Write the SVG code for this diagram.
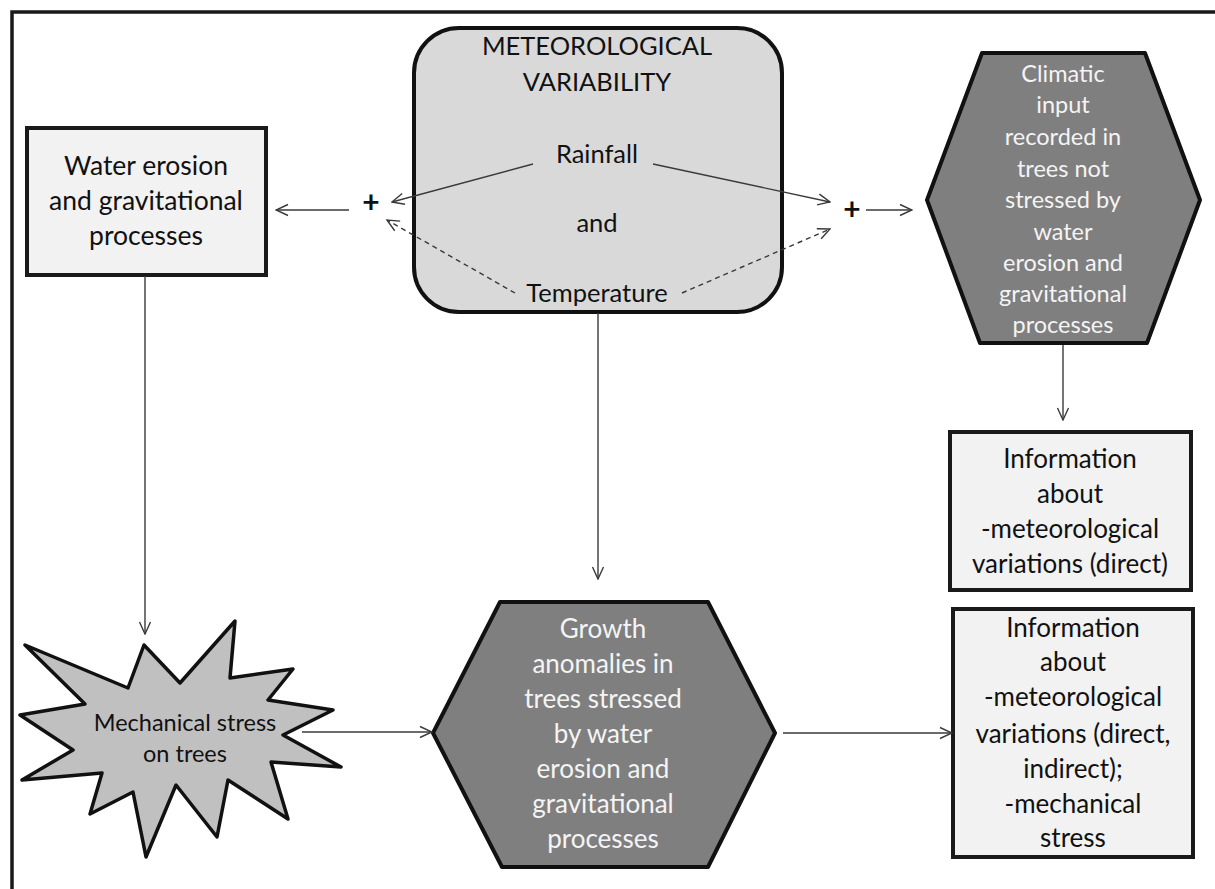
<svg xmlns="http://www.w3.org/2000/svg" width="1215" height="889" viewBox="0 0 1215 889">
<style>
text{font-family:Lato,"Open Sans","Liberation Sans",sans-serif;text-anchor:middle;}
.dark{fill:#111;}
.light{fill:#f4f4f4;}
.conn{stroke:#3a3a3a;stroke-width:1.4;fill:none;marker-end:url(#arr);}
.dash{stroke-dasharray:5 4;}
.box{fill:#f2f2f2;stroke:#1a1a1a;stroke-width:4;}
.hex{fill:#7f7f7f;stroke:#111;stroke-width:4;stroke-linejoin:round;}
</style>
<defs>
<marker id="arr" viewBox="0 0 14 14" refX="13" refY="7" markerWidth="14" markerHeight="14" markerUnits="userSpaceOnUse" orient="auto">
<path d="M1,1.5 L13,7 L1,12.5" fill="none" stroke="#3a3a3a" stroke-width="1.4"/>
</marker>
</defs>
<rect width="1215" height="889" fill="#fff"/>
<path d="M12,889 V12 H1215" fill="none" stroke="#1a1a1a" stroke-width="3.5"/>

<g id="water-erosion">
<rect class="box" x="27" y="128" width="239" height="147"/>
<g style="font-size:26.5px">
<text x="146" y="175" class="dark">Water erosion</text>
<text x="146" y="210" class="dark">and gravitational</text>
<text x="146" y="245" class="dark">processes</text>
</g>
</g>

<g id="meteorological">
<rect x="414" y="28" width="368" height="284" rx="45" ry="45" fill="#d9d9d9" stroke="#111" stroke-width="4"/>
<g style="font-size:25.5px">
<text x="597" y="55" class="dark">METEOROLOGICAL</text>
<text x="597" y="91" class="dark">VARIABILITY</text>
<text x="597" y="163" class="dark">Rainfall</text>
<text x="597" y="232" class="dark">and</text>
<text x="597" y="302" class="dark">Temperature</text>
</g>
</g>

<g id="climatic-input">
<polygon class="hex" points="982,53 1145,53 1200,200 1147,343 980,343 927,200"/>
<g style="font-size:23.5px">
<text x="1063" y="82" class="light">Climatic</text>
<text x="1063" y="113" class="light">input</text>
<text x="1063" y="145" class="light">recorded in</text>
<text x="1063" y="177" class="light">trees not</text>
<text x="1063" y="208" class="light">stressed by</text>
<text x="1063" y="240" class="light">water</text>
<text x="1063" y="271" class="light">erosion and</text>
<text x="1063" y="302" class="light">gravitational</text>
<text x="1063" y="333" class="light">processes</text>
</g>
</g>

<g id="info-direct">
<rect class="box" x="950" y="432" width="241" height="158"/>
<g style="font-size:26px">
<text x="1070" y="468" class="dark">Information</text>
<text x="1070" y="503" class="dark">about</text>
<text x="1070" y="538" class="dark">-meteorological</text>
<text x="1070" y="573" class="dark">variations (direct)</text>
</g>
</g>

<g id="mechanical-stress">
<polygon points="25,645 128,688 144,645 180,683 235,621 230,678 293,669 268,700 333,710 283,735 341,767 271,762 288,819 228,780 217,837 176,785 146,857 133,792 90,814 102,773 22,780 73,750 20,715 85,704" fill="#c0c0c0" stroke="#111" stroke-width="3.5" stroke-linejoin="round"/>
<g style="font-size:23.5px">
<text x="185" y="731" class="dark">Mechanical stress</text>
<text x="185" y="762" class="dark">on trees</text>
</g>
</g>

<g id="growth-anomalies">
<polygon class="hex" points="500,602 708,602 775,733 708,867 502,867 433,733"/>
<g style="font-size:26px">
<text x="603" y="638" class="light">Growth</text>
<text x="603" y="673" class="light">anomalies in</text>
<text x="603" y="708" class="light">trees stressed</text>
<text x="603" y="743" class="light">by water</text>
<text x="603" y="778" class="light">erosion and</text>
<text x="603" y="813" class="light">gravitational</text>
<text x="603" y="848" class="light">processes</text>
</g>
</g>

<g id="info-direct-indirect">
<rect class="box" x="953" y="609" width="240" height="248"/>
<g style="font-size:26px">
<text x="1073" y="637" class="dark">Information</text>
<text x="1073" y="671" class="dark">about</text>
<text x="1073" y="706" class="dark">-meteorological</text>
<text x="1073" y="743" class="dark">variations (direct,</text>
<text x="1073" y="778" class="dark">indirect);</text>
<text x="1073" y="813" class="dark">-mechanical</text>
<text x="1073" y="847" class="dark">stress</text>
</g>
</g>

<g id="connectors">
<line class="conn" x1="349" y1="210" x2="276" y2="210"/>
<line class="conn" x1="533" y1="164" x2="392" y2="202"/>
<line class="conn dash" x1="515" y1="293" x2="387" y2="220"/>
<line class="conn" x1="653" y1="164" x2="830" y2="202"/>
<line class="conn dash" x1="682" y1="293" x2="830" y2="229"/>
<line class="conn" x1="866" y1="210" x2="912" y2="210"/>
<line class="conn" x1="1063" y1="345" x2="1063" y2="420"/>
<line class="conn" x1="598" y1="313" x2="598" y2="579"/>
<line class="conn" x1="145" y1="276" x2="145" y2="634"/>
<line class="conn" x1="302" y1="732" x2="432" y2="732"/>
<line class="conn" x1="783" y1="733" x2="952" y2="733"/>
<text x="371" y="213" class="dark" style="font-size:30px;font-weight:bold">+</text>
<text x="852" y="220" class="dark" style="font-size:30px;font-weight:bold">+</text>
</g>
</svg>
